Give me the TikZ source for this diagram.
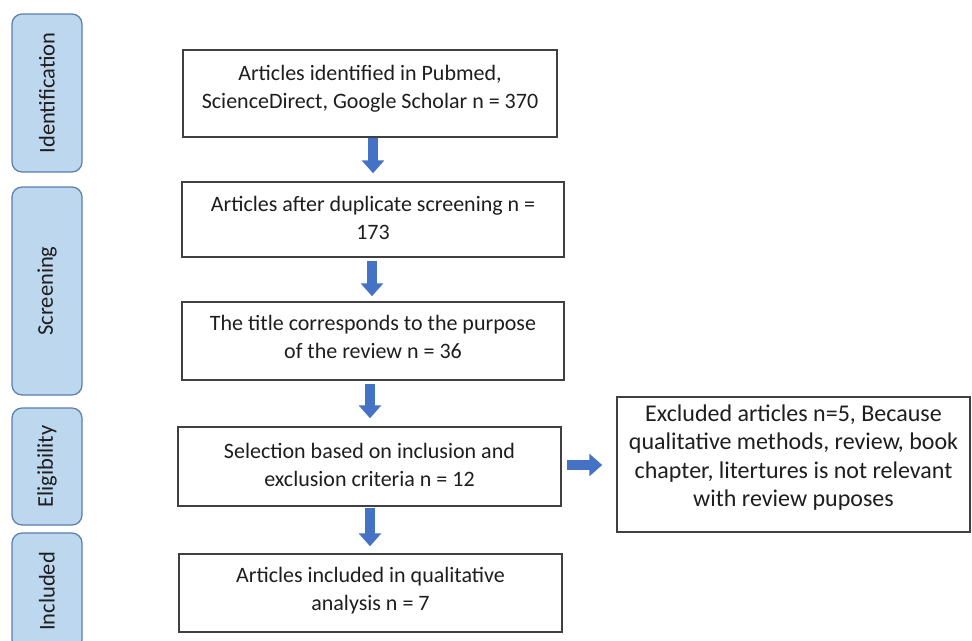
\documentclass[tikz,border=0pt]{standalone}
\usepackage{fontspec}
\setmainfont{Carlito}
\usetikzlibrary{arrows.meta}
\definecolor{boxgray}{HTML}{404040}
\definecolor{sideborder}{HTML}{5A7DB0}
\definecolor{sidefill}{HTML}{BDD7EE}
\definecolor{arrowblue}{HTML}{4472C4}
\definecolor{txt}{HTML}{1E1E1E}
\begin{document}
\begin{tikzpicture}[x=1pt,y=-1pt,
  mainbox/.style={draw=boxgray, line width=1.5pt, fill=white, inner sep=0pt},
  boxtext/.style={align=center, inner sep=0pt, font=\fontsize{22}{28}\selectfont, text=txt},
  exttext/.style={align=center, inner sep=0pt, font=\fontsize{24}{28.3}\selectfont, text=txt},
  sidebox/.style={draw=sideborder, fill=sidefill, line width=1.2pt, rounded corners=10pt,
    inner sep=0pt, rotate=90, minimum height=70pt, font=\fontsize{22.5}{26}\selectfont, text=txt},
  bigarrow/.style={draw=arrowblue, line width=10pt, -{Triangle[width=22pt,length=13pt]}}
]
\clip (0,0) rectangle (972,640);
\fill[white] (0,0) rectangle (972,640);

% side stage boxes
\node[sidebox, minimum width=158pt] (sid) at (47,93) {Identification};
\node[sidebox, minimum width=208pt] (sscr) at (47,291) {Screening};
\node[sidebox, minimum width=117pt] (seli) at (47,466.5) {Eligibility};
\node[sidebox, minimum width=117pt] (sinc) at (47,591.5) {Included};

% main boxes
\node[mainbox, minimum width=374pt, minimum height=87pt] (b1) at (370,93.5) {};
\node[mainbox, minimum width=382pt, minimum height=75pt] (b2) at (373,219.5) {};
\node[mainbox, minimum width=382pt, minimum height=78pt] (b3) at (373,341) {};
\node[mainbox, minimum width=383pt, minimum height=79pt] (b4) at (369.5,466.5) {};
\node[mainbox, minimum width=383pt, minimum height=78pt] (b5) at (370.5,593) {};
\node[mainbox, minimum width=353pt, minimum height=135pt] (ex) at (793.5,464.5) {};

% box texts
\node[boxtext] (t1) at ([yshift=5pt]b1.center)
  {Articles identified in Pubmed,\\ ScienceDirect, Google Scholar n = 370};
\node[boxtext] (t2) at ([yshift=2pt]b2.center)
  {Articles after duplicate screening n =\\ 173};
\node[boxtext] (t3) at ([yshift=4pt]b3.center)
  {The title corresponds to the purpose\\ of the review n = 36};
\node[boxtext] (t4) at ([yshift=2pt]b4.center)
  {Selection based on inclusion and\\ exclusion criteria n = 12};
\node[boxtext] (t5) at ([yshift=2pt]b5.center)
  {Articles included in qualitative\\ analysis n = 7};
\node[exttext] (tx) at ([yshift=7pt]ex.center)
  {Excluded articles n=5, Because\\ qualitative methods, review, book\\ chapter, litertures is not relevant\\ with review puposes};

% arrow guide coordinates
\coordinate (a1) at (373,0);
\coordinate (a2) at (372,0);
\coordinate (a3) at (370,0);
\coordinate (a4) at (370,0);
\coordinate (ar) at (0,465);

\draw[bigarrow] (b1.south -| a1) -- ([yshift=8pt]b2.north -| a1);
\draw[bigarrow] ([yshift=-3pt]b2.south -| a2) -- ([yshift=5pt]b3.north -| a2);
\draw[bigarrow] ([yshift=-3pt]b3.south -| a3) -- ([yshift=8pt]b4.north -| a3);
\draw[bigarrow] ([yshift=-1pt]b4.south -| a4) -- ([yshift=7pt]b5.north -| a4);
\draw[bigarrow] ([xshift=5pt]b4.east |- ar) -- ([xshift=-14pt]ex.west |- ar);
\end{tikzpicture}
\end{document}
